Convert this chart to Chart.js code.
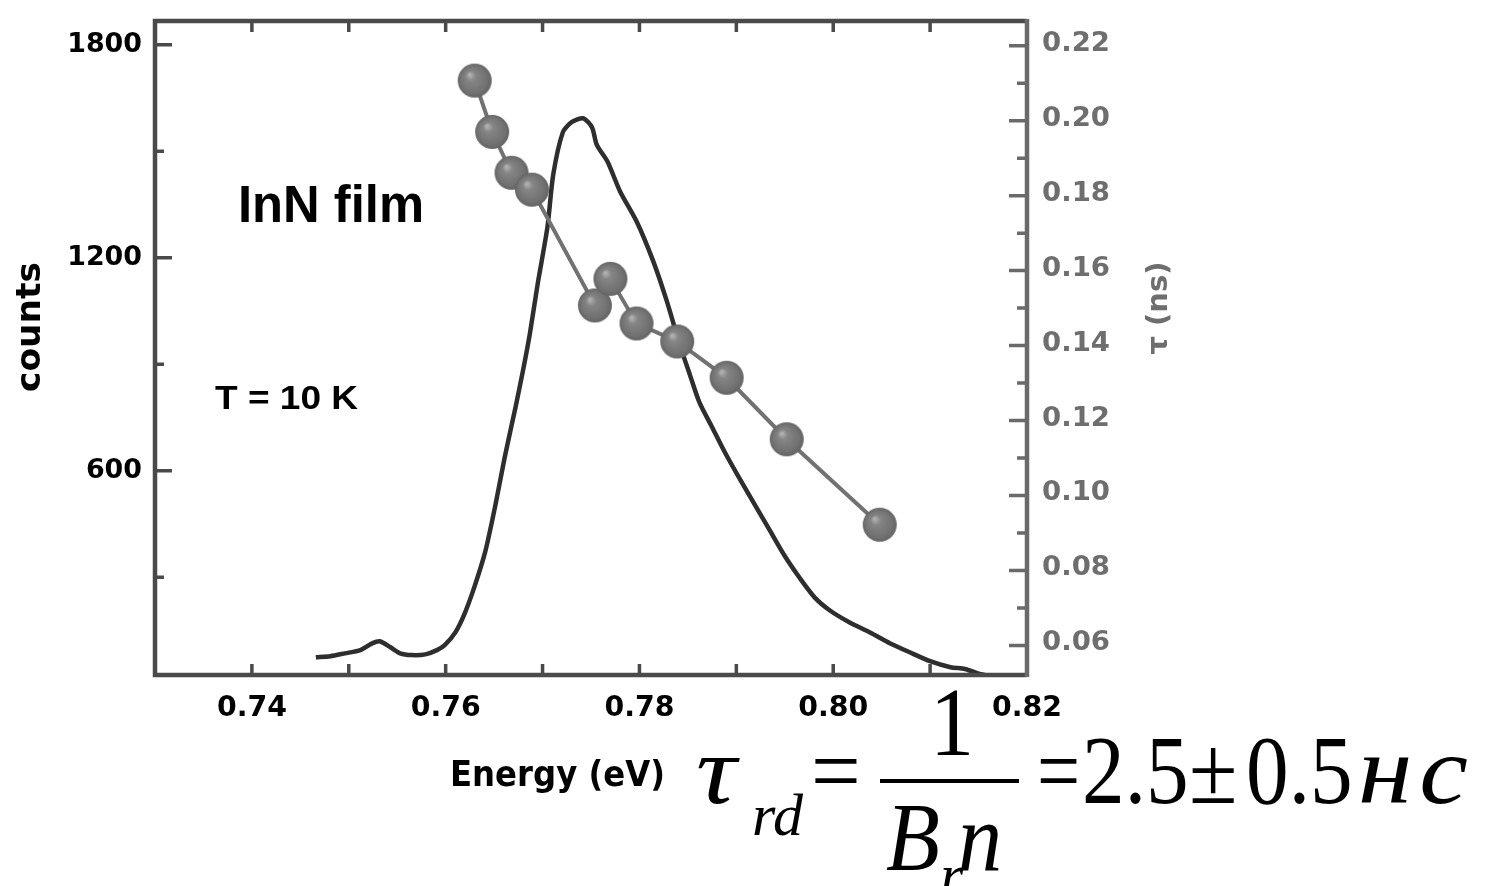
<!DOCTYPE html>
<html>
<head>
<meta charset="utf-8">
<title>InN film PL and lifetime</title>
<script src="https://cdn.jsdelivr.net/npm/chart.js@4/dist/chart.umd.min.js"></script>
<style>
  html, body { margin: 0; padding: 0; background: #fff; }
  #wrap { position: relative; width: 1488px; height: 886px; overflow: hidden; }
  #plChart { filter: blur(0.7px); }
  .f { position: absolute; font-family: "Liberation Serif", "Times New Roman", serif; line-height: 1; white-space: nowrap; color: #000; transform-origin: 0 0; }
  .i { font-style: italic; }
  #bar { position: absolute; left: 880px; top: 779px; width: 139px; height: 0; border-top: 4px solid #000; }
</style>
</head>
<body>
<div id="wrap">
  <canvas id="plChart" width="1488" height="886"></canvas>
  <!-- radiative lifetime formula -->
  <span class="f i" style="left:696px; top:721px; font-size:98px; transform:scaleX(1.15);">τ</span>
  <span class="f i" style="left:752px; top:785px; font-size:60px;">rd</span>
  <span class="f" style="left:811px; top:721px; font-size:98px; transform:scaleX(0.9);">=</span>
  <span class="f" style="left:930px; top:673px; font-size:98px; transform:scaleX(0.9);">1</span>
  <div id="bar"></div>
  <span class="f i" style="left:886px; top:788px; font-size:98px; transform:scaleX(0.9);">B</span>
  <span class="f i" style="left:940px; top:845px; font-size:60px;">r</span>
  <span class="f i" style="left:958px; top:788px; font-size:98px; transform:scaleX(0.9);">n</span>
  <span class="f" style="left:1037px; top:721px; font-size:98px; transform:scaleX(0.78);">=</span>
  <span class="f" style="left:1082px; top:721px; font-size:98px; transform:scaleX(0.87);">2.5</span>
  <span class="f" style="left:1189px; top:721px; font-size:98px; transform:scaleX(0.9);">±</span>
  <span class="f" style="left:1246px; top:721px; font-size:98px; transform:scaleX(0.87);">0.5</span>
  <span class="f i" style="left:1358px; top:721px; font-size:98px; letter-spacing:6px; transform:scaleX(1.12);">нс</span>
</div>
<script>
// PL spectrum (counts vs photon energy)
const energy = [0.7466, 0.7481, 0.7496, 0.7512, 0.7524, 0.7532, 0.7543, 0.7553, 0.7565, 0.7579,
    0.7591, 0.7599, 0.7610, 0.7620, 0.7630, 0.7641, 0.7651, 0.7661, 0.7672, 0.7680,
    0.7687, 0.7695, 0.7705, 0.7711, 0.7721, 0.7730, 0.7742, 0.7751, 0.7756, 0.7767,
    0.7780, 0.7797, 0.7814, 0.7828, 0.7842, 0.7852, 0.7862, 0.7875, 0.7888, 0.7904,
    0.7919, 0.7935, 0.7950, 0.7966, 0.7981, 0.7997, 0.8017, 0.8038, 0.8059, 0.8079,
    0.8100, 0.8121, 0.8136, 0.8151, 0.8162];
const counts = [75, 78, 86, 95, 114, 120, 103, 86, 81, 83,
    95, 109, 145, 201, 276, 374, 499, 639, 778, 885,
    988, 1127, 1286, 1434, 1554, 1582, 1593, 1568, 1518, 1471,
    1387, 1303, 1192, 1080, 952, 871, 792, 723, 653, 575,
    505, 430, 360, 296, 243, 206, 173, 145, 114, 89,
    64, 47, 42, 28, 22];

// decay time at selected energies
const tauEnergy = [0.7630, 0.7648, 0.7668, 0.7689, 0.7754, 0.7770, 0.7797, 0.7839, 0.7890, 0.7952, 0.8048];
const tau = [0.2107, 0.1970, 0.1861, 0.1816, 0.1507, 0.1578, 0.1459, 0.1411, 0.1314, 0.1150, 0.0922];

// ticks
const energyTicks = [0.74, 0.75, 0.76, 0.77, 0.78, 0.79, 0.80, 0.81];
const energyLabels = [0.74, 0.76, 0.78, 0.80, 0.82];
const countMajor = [600, 1200, 1800];
const countMinor = [300, 900, 1500];
const tauMajor = [0.06, 0.08, 0.10, 0.12, 0.14, 0.16, 0.18, 0.20, 0.22];
const tauMinor = [0.07, 0.09, 0.11, 0.13, 0.15, 0.17, 0.19, 0.21];

// shaded ball marker
function makeBall(r) {
    const c = document.createElement('canvas');
    c.width = c.height = r * 2 + 2;
    const g = c.getContext('2d');
    const m = r + 1;
    const grad = g.createRadialGradient(m - r * 0.3, m - r * 0.35, 1, m, m, r);
    grad.addColorStop(0, '#b0b0b0');
    grad.addColorStop(0.25, '#858585');
    grad.addColorStop(0.8, '#717171');
    grad.addColorStop(1, '#636363');
    g.fillStyle = grad;
    g.beginPath();
    g.arc(m, m, r, 0, Math.PI * 2);
    g.fill();
    return c;
}

// draws text squeezed or stretched to a given width
function fitText(ctx, text, x, y, width, opts) {
    ctx.save();
    ctx.font = opts.font;
    ctx.fillStyle = opts.color || '#000';
    ctx.textBaseline = opts.baseline || 'alphabetic';
    const w = ctx.measureText(text).width;
    const sx = width ? width / w : 1;
    ctx.translate(x, y);
    if (opts.rotate) ctx.rotate(opts.rotate);
    ctx.scale(sx, 1);
    ctx.textAlign = opts.align || 'left';
    ctx.fillText(text, 0, 0);
    ctx.restore();
}

const framePlugin = {
    id: 'frame',
    afterDatasetsDraw(chart) {
        const { ctx, chartArea: a } = chart;
        const { x, y, y2 } = chart.scales;
        ctx.save();

        // inward ticks
        ctx.lineWidth = 3.5;
        ctx.strokeStyle = '#4a4a4a';
        ctx.beginPath();
        energyTicks.forEach(v => {
            const px = x.getPixelForValue(v);
            ctx.moveTo(px, a.bottom); ctx.lineTo(px, a.bottom - 11);
            ctx.moveTo(px, a.top); ctx.lineTo(px, a.top + 11);
        });
        countMajor.forEach(v => {
            const py = y.getPixelForValue(v);
            ctx.moveTo(a.left, py); ctx.lineTo(a.left + 17, py);
        });
        countMinor.forEach(v => {
            const py = y.getPixelForValue(v);
            ctx.moveTo(a.left, py); ctx.lineTo(a.left + 9, py);
        });
        ctx.stroke();

        ctx.strokeStyle = '#6a6a6a';
        ctx.beginPath();
        tauMajor.forEach(v => {
            const py = y2.getPixelForValue(v);
            ctx.moveTo(a.right, py); ctx.lineTo(a.right - 18, py);
        });
        tauMinor.forEach(v => {
            const py = y2.getPixelForValue(v);
            ctx.moveTo(a.right, py); ctx.lineTo(a.right - 10, py);
        });
        ctx.stroke();

        // frame
        ctx.lineWidth = 4.5;
        ctx.strokeStyle = '#4a4a4a';
        ctx.beginPath();
        ctx.moveTo(a.right, a.top); ctx.lineTo(a.left, a.top);
        ctx.lineTo(a.left, a.bottom); ctx.lineTo(a.right, a.bottom);
        ctx.stroke();
        ctx.strokeStyle = '#6a6a6a';
        ctx.beginPath();
        ctx.moveTo(a.right, a.top - 2); ctx.lineTo(a.right, a.bottom + 2);
        ctx.stroke();

        // tick labels (widths follow the character count)
        countMajor.forEach(v => {
            const s = String(v);
            fitText(ctx, s, a.left - 13, y.getPixelForValue(v), 18.7 * s.length,
                { font: 'bold 27px "DejaVu Sans"', align: 'right', baseline: 'middle' });
        });
        energyLabels.forEach(v => {
            fitText(ctx, v.toFixed(2), x.getPixelForValue(v), a.bottom + 34, 70,
                { font: 'bold 28px "DejaVu Sans"', align: 'center', baseline: 'middle' });
        });
        tauMajor.forEach(v => {
            fitText(ctx, v.toFixed(2), a.right + 15, y2.getPixelForValue(v) - 2, 68,
                { font: 'bold 27px "DejaVu Sans"', align: 'left', baseline: 'middle', color: '#6e6e6e' });
        });

        // axis titles
        fitText(ctx, 'counts', 31, 327, 130,
            { font: 'bold 33px "DejaVu Sans"', align: 'center', baseline: 'middle', rotate: -Math.PI / 2 });
        fitText(ctx, 'τ (ns)', 1160, 308, 93,
            { font: 'bold 28px "DejaVu Sans"', align: 'center', baseline: 'middle', rotate: -Math.PI / 2, color: '#6e6e6e' });
        fitText(ctx, 'Energy (eV)', 450, 786, 215,
            { font: 'bold 35px "DejaVu Sans"' });

        // annotations
        fitText(ctx, 'InN film', 238, 222, 186, { font: 'bold 51px "Liberation Sans"' });
        fitText(ctx, 'T = 10 K', 215, 409, 143, { font: 'bold 33px "Liberation Sans"' });

        ctx.restore();
    }
};

const plPoints = energy.map((e, i) => ({ x: e, y: counts[i] }));
const tauPoints = tauEnergy.map((e, i) => ({ x: e, y: tau[i] }));

new Chart(document.getElementById('plChart').getContext('2d'), {
    type: 'line',
    data: {
        datasets: [
            {
                label: 'PL',
                data: plPoints,
                yAxisID: 'y',
                borderColor: '#2e2e2e',
                borderWidth: 4.5,
                pointRadius: 0,
                tension: 0.25,
                order: 2
            },
            {
                label: 'tau',
                data: tauPoints,
                yAxisID: 'y2',
                borderColor: '#727272',
                borderWidth: 4,
                pointStyle: makeBall(17),
                pointRadius: 17,
                tension: 0,
                order: 1
            }
        ]
    },
    options: {
        responsive: false,
        animation: false,
        events: [],
        layout: { padding: { left: 155, right: 461, top: 15, bottom: 211 } },
        plugins: { legend: { display: false }, tooltip: { enabled: false } },
        scales: {
            x: { type: 'linear', min: 0.73, max: 0.82, display: false },
            y: { type: 'linear', min: 25, max: 1867, display: false },
            y2: { type: 'linear', min: 0.0521, max: 0.2266, display: false }
        }
    },
    plugins: [framePlugin]
});
</script>
</body>
</html>
